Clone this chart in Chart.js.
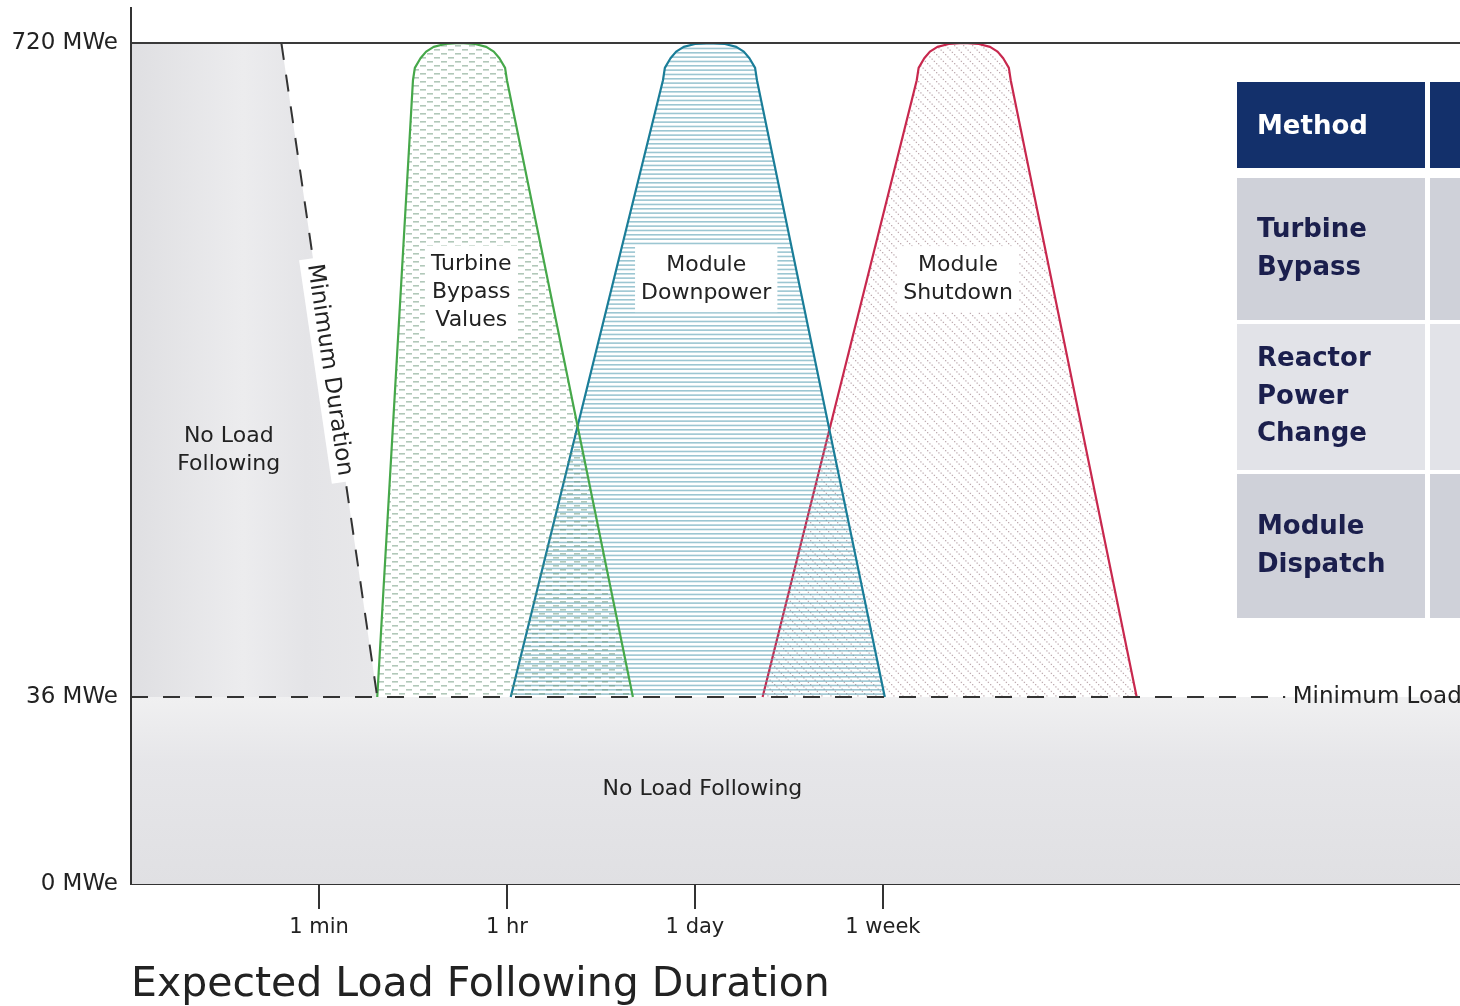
<!DOCTYPE html>
<html>
<head>
<meta charset="utf-8">
<script src="https://cdn.jsdelivr.net/npm/chart.js@4.4.0/dist/chart.umd.min.js"></script>
<style>
  html, body { margin: 0; padding: 0; background: #fff; }
  #wrap { width: 1460px; height: 1006px; }
</style>
</head>
<body>
<div id="wrap"><canvas id="chart"></canvas></div>
<script>
// x is a stepped duration axis: 1 = 1 min, 2 = 1 hr, 3 = 1 day, 4 = 1 week
const xTicks = [1, 2, 3, 4];
const xTickLabels = ['1 min', '1 hr', '1 day', '1 week'];
const yTicks = [0, 36, 720];

// outlines of the three load following envelopes (x in duration steps, y in MWe)
const shapeY = [36, 681, 694, 704, 711, 716, 719, 720, 719, 716, 711, 704, 694, 681, 36];
const turbineX = [1.31, 1.50, 1.51, 1.54, 1.57, 1.61, 1.67, 1.75, 1.83, 1.89, 1.93, 1.96, 1.99, 2.00, 2.67];
const downpowerX = [2.02, 2.83, 2.84, 2.87, 2.90, 2.94, 3.00, 3.08, 3.16, 3.22, 3.26, 3.29, 3.32, 3.33, 4.01];
const shutdownX = [3.36, 4.18, 4.19, 4.22, 4.25, 4.29, 4.35, 4.43, 4.51, 4.57, 4.61, 4.64, 4.67, 4.68, 5.35];

// "No Load Following" region left of the minimum duration line
const noLoadX = [0, 0.80, 1.31, 0];
const noLoadY = [720, 720, 36, 36];
const minDurationX = [0.80, 1.31];
const minDurationY = [720, 36];
const minLoadX = [0, 6.14];
const minLoadY = [36, 36];
const baseBandX = [0, 7.07];
const baseBandY = [36, 36];

const tableHeader = ['Method', ''];
const tableRows = [['Turbine', 'Bypass'], ['Reactor', 'Power', 'Change'], ['Module', 'Dispatch']];

const regionLabels = [
    { lines: ['Turbine', 'Bypass', 'Values'], x: 1.81, y: 459, box: true },
    { lines: ['Module', 'Downpower'], x: 3.06, y: 473, box: true },
    { lines: ['Module', 'Shutdown'], x: 4.40, y: 473, box: true },
    { lines: ['No Load', 'Following'], x: 0.52, y: 294, box: false },
    { lines: ['No Load Following'], x: 3.04, y: 18.3, box: false }
];
const minLoadLabel = { text: 'Minimum Load', x: 6.18, y: 36 };
const minDurationLabel = 'Minimum Duration';

const pts = (xs, ys) => xs.map((x, i) => ({ x: x, y: ys[i] }));

// piecewise linear value axis so the 0-36 MWe band gets room
class PiecewiseScale extends Chart.LinearScale {
    toDecimal(v) {
        const vals = this.options.breakValues, fr = this.options.breakFractions;
        let i = 1;
        while (i < vals.length - 1 && v > vals[i]) i++;
        return fr[i - 1] + (v - vals[i - 1]) / (vals[i] - vals[i - 1]) * (fr[i] - fr[i - 1]);
    }
    fromDecimal(d) {
        const vals = this.options.breakValues, fr = this.options.breakFractions;
        let i = 1;
        while (i < fr.length - 1 && d > fr[i]) i++;
        return vals[i - 1] + (d - fr[i - 1]) / (fr[i] - fr[i - 1]) * (vals[i] - vals[i - 1]);
    }
    getPixelForValue(v) {
        if (v === null || isNaN(v)) return NaN;
        return this.getPixelForDecimal(this.toDecimal(v));
    }
    getValueForPixel(p) {
        return this.fromDecimal(this.getDecimalForPixel(p));
    }
}
PiecewiseScale.id = 'piecewise';
PiecewiseScale.defaults = Chart.LinearScale.defaults;
Chart.register(PiecewiseScale);

function makePattern(w, h, draw) {
    const c = document.createElement('canvas');
    c.width = w;
    c.height = h;
    const g = c.getContext('2d');
    draw(g);
    return g.createPattern(c, 'repeat');
}

const greenDots = makePattern(14, 8, g => {
    g.fillStyle = 'rgba(100, 145, 115, 0.5)';
    g.fillRect(0, 1, 6, 1.6);
    g.fillRect(7, 5, 6, 1.6);
});
const blueLines = makePattern(4, 13, g => {
    g.fillStyle = 'rgba(90, 160, 180, 0.6)';
    g.fillRect(0, 0, 4, 1.6);
    g.fillRect(0, 4.33, 4, 1.6);
    g.fillRect(0, 8.67, 4, 1.6);
});
const redHatch = makePattern(9, 9, g => {
    g.fillStyle = 'rgba(140, 105, 115, 0.55)';
    for (let i = 0; i < 9; i += 2.25) g.fillRect(i, i, 1.3, 1.3);
});

function leftGray(ctx) {
    const a = ctx.chart.chartArea;
    if (!a) return '#e4e4e6';
    const gr = ctx.chart.ctx.createLinearGradient(a.left, 0, a.left + 250, 0);
    gr.addColorStop(0, '#dfdfe2');
    gr.addColorStop(0.45, '#ececee');
    gr.addColorStop(0.7, '#e4e4e7');
    gr.addColorStop(1, '#e8e8ea');
    return gr;
}

function bottomGray(ctx) {
    const a = ctx.chart.chartArea;
    if (!a) return '#e4e4e6';
    const gr = ctx.chart.ctx.createLinearGradient(0, a.bottom - 187, 0, a.bottom);
    gr.addColorStop(0, '#f0f0f1');
    gr.addColorStop(0.35, '#e6e6e9');
    gr.addColorStop(1, '#e0e0e3');
    return gr;
}

const lineBase = { pointRadius: 0, tension: 0, borderJoinStyle: 'round' };

const labelPlugin = {
    id: 'regionLabels',
    afterDatasetsDraw(chart) {
        const { ctx, scales: { x, y } } = chart;
        ctx.save();
        ctx.font = '22px "DejaVu Sans"';
        ctx.textAlign = 'center';
        ctx.textBaseline = 'middle';
        regionLabels.forEach(lab => {
            const cx = x.getPixelForValue(lab.x);
            const cy = y.getPixelForValue(lab.y);
            const lh = 28;
            const top = cy - (lab.lines.length - 1) * lh / 2;
            if (lab.box) {
                const w = Math.max(...lab.lines.map(t => ctx.measureText(t).width)) + 12;
                const h = lab.lines.length * lh + 10;
                ctx.fillStyle = '#ffffff';
                ctx.fillRect(cx - w / 2, cy - h / 2, w, h);
            }
            ctx.fillStyle = '#222';
            lab.lines.forEach((t, i) => ctx.fillText(t, cx, top + i * lh));
        });

        // label at the end of the minimum load line
        ctx.font = '23px "DejaVu Sans"';
        ctx.textAlign = 'left';
        ctx.fillText(minLoadLabel.text, x.getPixelForValue(minLoadLabel.x), y.getPixelForValue(minLoadLabel.y));

        // rotated caption along the minimum duration line
        ctx.textAlign = 'center';
        const x1 = x.getPixelForValue(minDurationX[0]), y1 = y.getPixelForValue(minDurationY[0]);
        const x2 = x.getPixelForValue(minDurationX[1]), y2 = y.getPixelForValue(minDurationY[1]);
        const ang = Math.atan2(y2 - y1, x2 - x1);
        ctx.translate((x1 + x2) / 2, (y1 + y2) / 2);
        ctx.rotate(ang);
        const tw = ctx.measureText(minDurationLabel).width;
        ctx.fillStyle = '#ffffff';
        ctx.fillRect(-tw / 2 - 6, -14, tw + 12, 28);
        ctx.fillStyle = '#222';
        ctx.fillText(minDurationLabel, 0, 0);
        ctx.restore();
    }
};

const tablePlugin = {
    id: 'methodTable',
    afterDraw(chart) {
        const ctx = chart.ctx;
        const colX = [1237, 1430];
        const colW = [188, 200];
        const rowTop = [178, 324, 474];
        const rowH = [142, 146, 144];
        const rowFill = ['#cfd1d9', '#e2e3e8', '#cfd1d9'];
        ctx.save();
        ctx.textBaseline = 'middle';
        ctx.textAlign = 'left';
        colX.forEach((cx, c) => {
            ctx.fillStyle = '#13306b';
            ctx.fillRect(cx, 82, colW[c], 86);
            rowTop.forEach((t, r) => {
                ctx.fillStyle = rowFill[r];
                ctx.fillRect(cx, t, colW[c], rowH[r]);
            });
        });
        ctx.font = 'bold 26px "DejaVu Sans"';
        ctx.fillStyle = '#ffffff';
        ctx.fillText(tableHeader[0], 1257, 127);
        ctx.fillStyle = '#1b1f4d';
        tableRows.forEach((lines, r) => {
            const mid = rowTop[r] + rowH[r] / 2;
            const lh = 37.5;
            lines.forEach((t, i) => {
                ctx.fillText(t, 1257, mid + (i - (lines.length - 1) / 2) * lh);
            });
        });
        ctx.restore();
    }
};

Chart.defaults.font.family = '"DejaVu Sans"';
Chart.defaults.color = '#222';

new Chart(document.getElementById('chart'), {
    type: 'line',
    data: {
        datasets: [
            {
                label: 'Minimum Load',
                data: pts(minLoadX, minLoadY),
                borderColor: '#333', borderWidth: 2, borderDash: [17, 15],
                fill: false, order: 1, ...lineBase
            },
            {
                label: 'Minimum Duration',
                data: pts(minDurationX, minDurationY),
                borderColor: '#333', borderWidth: 2, borderDash: [17, 15],
                fill: false, order: 2, ...lineBase
            },
            {
                label: 'Turbine Bypass Values',
                data: pts(turbineX, shapeY),
                borderColor: '#46a84a', borderWidth: 2.2,
                backgroundColor: greenDots, fill: 'shape', order: 3, ...lineBase
            },
            {
                label: 'Module Downpower',
                data: pts(downpowerX, shapeY),
                borderColor: '#1a7d98', borderWidth: 2.2,
                backgroundColor: blueLines, fill: 'shape', order: 4, ...lineBase
            },
            {
                label: 'Module Shutdown',
                data: pts(shutdownX, shapeY),
                borderColor: '#c8284e', borderWidth: 2.2,
                backgroundColor: redHatch, fill: 'shape', order: 5, ...lineBase
            },
            {
                label: 'No Load Following (duration)',
                data: pts(noLoadX, noLoadY),
                borderWidth: 0, borderColor: 'rgba(0,0,0,0)',
                backgroundColor: leftGray, fill: 'shape', order: 6, ...lineBase
            },
            {
                label: 'No Load Following (load)',
                data: pts(baseBandX, baseBandY),
                borderWidth: 0, borderColor: 'rgba(0,0,0,0)',
                backgroundColor: bottomGray, fill: 'origin', order: 7, ...lineBase
            }
        ]
    },
    options: {
        responsive: true,
        maintainAspectRatio: false,
        animation: false,
        devicePixelRatio: 1,
        layout: { padding: { top: 8, left: 0, right: 0, bottom: 0 } },
        plugins: {
            legend: { display: false },
            tooltip: { enabled: false },
            title: {
                display: true,
                text: 'Expected Load Following Duration',
                position: 'bottom',
                align: 'start',
                fullSize: false,
                color: '#222',
                font: { size: 41, weight: 'normal', lineHeight: 1 },
                padding: { top: 6, bottom: 0 }
            }
        },
        scales: {
            x: {
                type: 'linear',
                min: 0,
                max: 7.07,
                afterBuildTicks: s => { s.ticks = xTicks.map(v => ({ value: v })); },
                afterFit: s => { s.height = 75; s.paddingLeft = 0; s.paddingRight = 0; },
                ticks: {
                    callback: v => xTickLabels[xTicks.indexOf(v)],
                    font: { size: 21 },
                    color: '#222',
                    padding: 6,
                    maxRotation: 0,
                    autoSkip: false
                },
                grid: { drawOnChartArea: false, drawTicks: true, tickLength: 25, color: '#333', lineWidth: 2 },
                border: { color: '#333', width: 2 }
            },
            y: {
                type: 'piecewise',
                min: 0,
                max: 757,
                breakValues: [0, 36, 720, 757],
                breakFractions: [0, 187 / 876, 841 / 876, 1],
                afterBuildTicks: s => { s.ticks = yTicks.map(v => ({ value: v })); },
                afterFit: s => { s.width = 131; s.paddingTop = 0; s.paddingBottom = 0; },
                ticks: {
                    callback: v => v + ' MWe',
                    font: { size: 23 },
                    color: '#222',
                    padding: 13
                },
                grid: {
                    drawTicks: false,
                    lineWidth: 2,
                    z: 1,
                    color: ctx => (ctx.tick && ctx.tick.value === 720 ? '#3a3a3a' : 'rgba(0,0,0,0)')
                },
                border: { color: '#333', width: 2, z: 1 }
            }
        }
    },
    plugins: [labelPlugin, tablePlugin]
});
</script>
</body>
</html>
